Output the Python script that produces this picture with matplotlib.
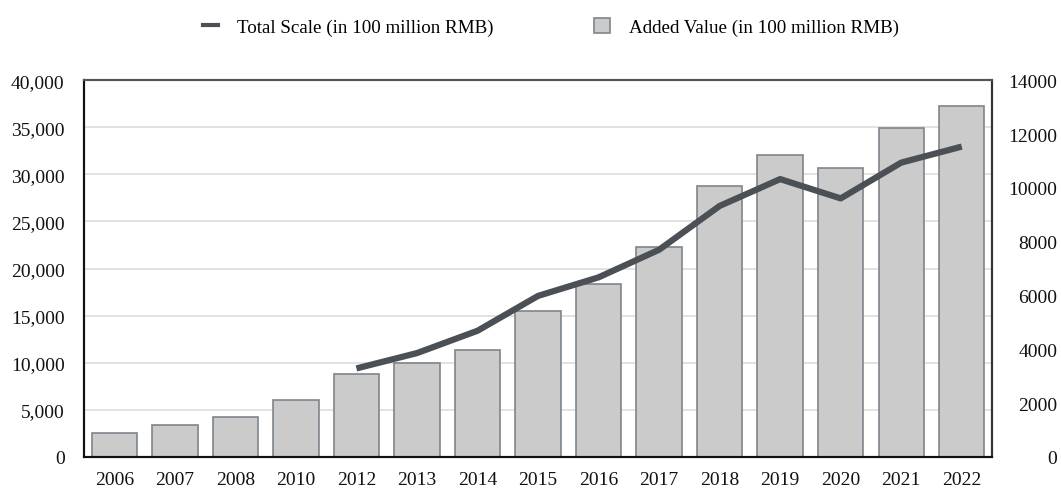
import matplotlib
matplotlib.use("Agg")
import matplotlib.pyplot as plt
from matplotlib.ticker import FuncFormatter, MultipleLocator
from matplotlib.lines import Line2D
from matplotlib.patches import Patch

years = ["2006", "2007", "2008", "2010", "2012", "2013", "2014", "2015",
         "2016", "2017", "2018", "2019", "2020", "2021", "2022"]
added_value = [900, 1190, 1475, 2130, 3080, 3500, 3975, 5435,
               6410, 7785, 10050, 11225, 10720, 12220, 13045]
total_years = ["2012", "2013", "2014", "2015", "2016", "2017", "2018",
               "2019", "2020", "2021", "2022"]
total_scale = [9400, 11030, 13400, 17100, 19070, 22000, 26650,
               29500, 27450, 31250, 32950]

plt.rcParams['font.family'] = ['Liberation Serif', 'DejaVu Serif']

fig = plt.figure(figsize=(10.61, 4.89), dpi=100)
ax = fig.add_axes([0.0792, 0.0634, 0.8558, 0.7706])
ax2 = ax.twinx()

x = list(range(len(years)))
ax2.bar(x, added_value, width=0.75, color="#cbcbcb", edgecolor="#7d858c",
        linewidth=1.2, zorder=2)
tx = [years.index(y) for y in total_years]
ax.plot(tx, total_scale, color="#4b5057", linewidth=4.5, solid_capstyle="butt",
        solid_joinstyle="round", zorder=5)

ax.set_zorder(ax2.get_zorder() + 1)
ax.patch.set_visible(False)

ax.set_xlim(-0.5, len(years) - 0.5)
ax.set_ylim(0, 40000)
ax2.set_ylim(0, 14000)
ax.yaxis.set_major_locator(MultipleLocator(5000))
ax2.yaxis.set_major_locator(MultipleLocator(2000))
ax.yaxis.set_major_formatter(FuncFormatter(lambda v, p: f"{int(v):,}"))
ax2.yaxis.set_major_formatter(FuncFormatter(lambda v, p: f"{int(v)}"))
ax.set_xticks(x)
ax.set_xticklabels(years)

# gridlines (left axis) drawn on bar axes behind bars
for v in range(5000, 40000, 5000):
    ax2.axhline(v * 14000 / 40000, color="#dddddd", linewidth=1.2, zorder=0)

for a in (ax, ax2):
    a.tick_params(axis="both", length=0, labelsize=14, colors="#111111")
ax.tick_params(axis="y", pad=14)
ax.tick_params(axis="x", pad=10)
ax2.tick_params(axis="y", pad=47)
for lab in ax2.get_yticklabels():
    lab.set_horizontalalignment("right")

for a in (ax, ax2):
    a.spines["left"].set_color("#111111")
    a.spines["bottom"].set_color("#111111")
    a.spines["top"].set_color("#555555")
    a.spines["right"].set_color("#333333")
    for s in a.spines.values():
        s.set_linewidth(1.5)

handles = [Line2D([0], [0], color="#4b5057", linewidth=3),
           Patch(facecolor="#cbcbcb", edgecolor="#7d858c", linewidth=1.2)]
labels = ["Total Scale (in 100 million RMB)", "Added Value (in 100 million RMB)"]
fig.legend(handles, labels, loc="center", bbox_to_anchor=(0.519, 0.943), ncol=2,
           frameon=False, fontsize=13.7, handlelength=0.8, handleheight=0.9,
           columnspacing=5.3, handletextpad=1.0)

fig.savefig("out.png", dpi=100)
